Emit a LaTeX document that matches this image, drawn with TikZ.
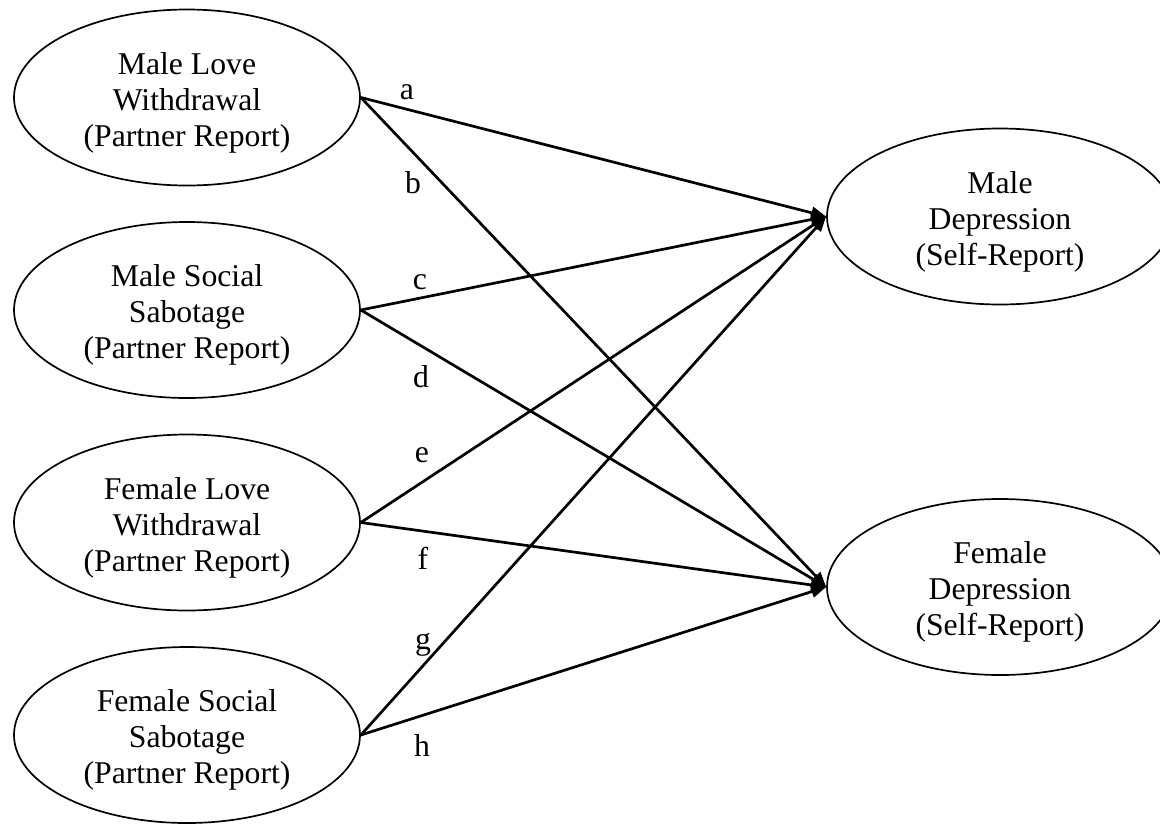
\documentclass[tikz,border=0pt]{standalone}
\usepackage{fontspec}
\setmainfont{Liberation Serif}
\usetikzlibrary{shapes.geometric,arrows.meta}
\newcommand{\topstrut}{\rule{0pt}{32pt}}
\begin{document}
\begin{tikzpicture}[x=1pt,y=-1pt,
  latent/.style={ellipse,draw,line width=1.7pt,minimum width=346pt,minimum height=176pt,inner sep=0pt,align=center,font=\fontsize{31.7}{36}\selectfont},
  conn/.style={line width=2.7pt,-{Triangle[length=15pt,width=12pt]}},
  lbl/.style={inner sep=0pt,font=\fontsize{31.7}{36}\selectfont}]
\clip (0,0) rectangle (1160,823);
\node[latent] (mlw) at (187,97.5) {\topstrut Male Love\\Withdrawal\\(Partner Report)};
\node[latent] (mss) at (187,310) {\topstrut Male Social\\Sabotage\\(Partner Report)};
\node[latent] (flw) at (187,522.5) {\topstrut Female Love\\Withdrawal\\(Partner Report)};
\node[latent] (fss) at (187,735) {\topstrut Female Social\\Sabotage\\(Partner Report)};
\node[latent] (md) at (1000,216.5) {\topstrut Male\\Depression\\(Self-Report)};
\node[latent] (fd) at (1000,587) {\topstrut Female\\Depression\\(Self-Report)};
\draw[conn] (mlw.east) -- (md.west);
\draw[conn] (mlw.east) -- (fd.west);
\draw[conn] (mss.east) -- (md.west);
\draw[conn] (mss.east) -- (fd.west);
\draw[conn] (flw.east) -- (md.west);
\draw[conn] (flw.east) -- (fd.west);
\draw[conn] (fss.east) -- (md.west);
\draw[conn] (fss.east) -- (fd.west);
\node[lbl] (la) at (407,92) {a};
\node[lbl] (lb) at (413,183) {b};
\node[lbl] (lc) at (420,282) {c};
\node[lbl] (ld) at (421,377) {d};
\node[lbl] (le) at (422,455) {e};
\node[lbl] (lf) at (423,558) {f};
\node[lbl] (lg) at (423,645) {g};
\node[lbl] (lh) at (422,745) {h};
\end{tikzpicture}
\end{document}
